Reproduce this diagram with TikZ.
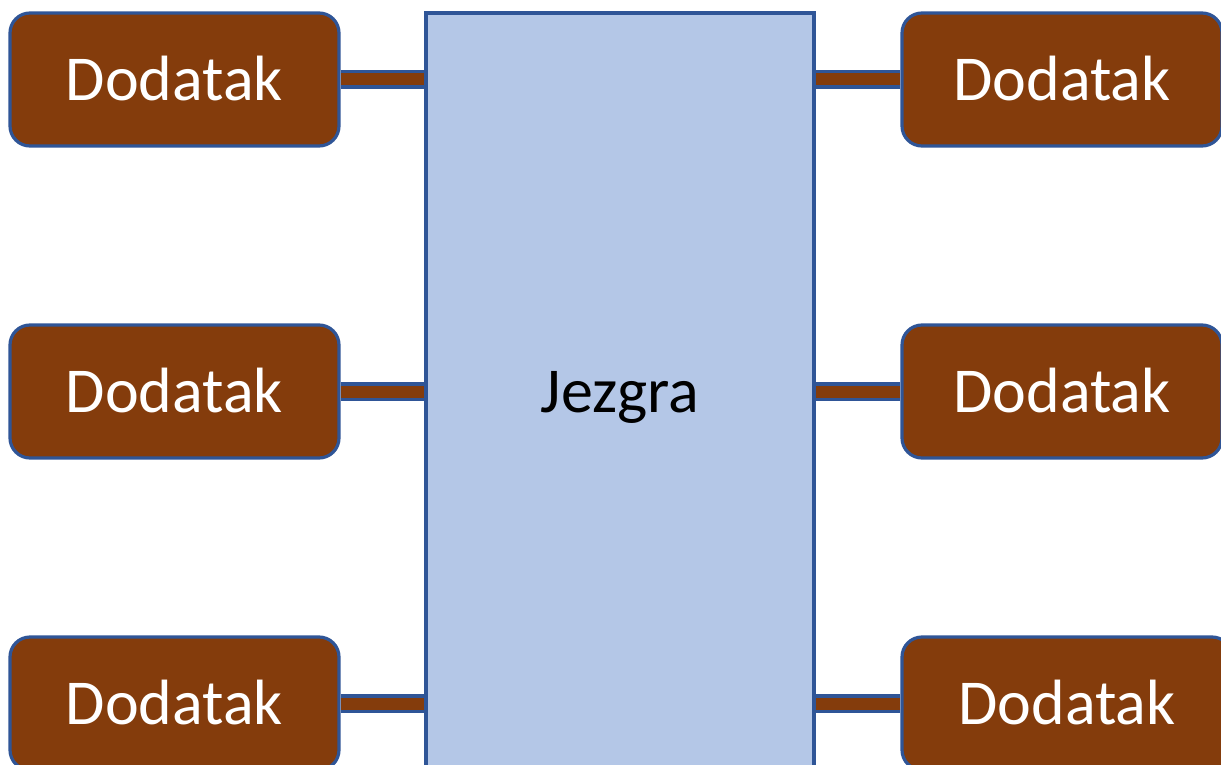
\documentclass[tikz,border=0pt]{standalone}
\usepackage{fontspec}
\setmainfont{Carlito}
\usetikzlibrary{backgrounds}
\definecolor{dodbrown}{HTML}{843C0C}
\definecolor{jezfill}{HTML}{B4C7E7}
\definecolor{jezline}{HTML}{2F5597}

\begin{document}
\begin{tikzpicture}[x=0.5pt,y=-0.5pt,
		dodatak/.style={draw=jezline, line width=1.6pt, fill=dodbrown, rounded corners=10pt, text=white, minimum height=66.5pt, inner sep=0pt, text height=21pt, text depth=0pt, font=\fontsize{32}{38}\selectfont},
		jezgra/.style={draw=jezline, line width=1.6pt, fill=jezfill, minimum width=194pt, minimum height=379pt, inner sep=0pt, text depth=0pt, font=\fontsize{32}{38}\selectfont},
		veza/.style={draw=jezline, line width=1.6pt, double=dodbrown, double distance=6pt}]
				\clip (0,0) rectangle (1221,765);
				
				\node[jezgra] (core) at (620,392) {Jezgra};
				
				\node[dodatak, minimum width=164.5pt] (l1) at (174.5,79.5) {Dodatak};
				\node[dodatak, minimum width=164.5pt] (l2) at (174.5,391.5) {Dodatak};
				\node[dodatak, minimum width=164.5pt] (l3) at (174.5,703.5) {Dodatak};
				
				\node[dodatak, minimum width=160pt] (r1) at (1062,79.5) {Dodatak};
				\node[dodatak, minimum width=160pt] (r2) at (1062,391.5) {Dodatak};
				\node[dodatak, minimum width=165pt] (r3) at (1067,703.5) {Dodatak};
				
				\begin{scope}[on background layer]
					\foreach \x in {l1,l2,l3}{
						\draw[veza] (\x.east) -- (core.west |- \x.east);}
					\foreach \x in {r1,r2,r3}{
						\draw[veza] (\x.west) -- (core.east |- \x.west);}
				\end{scope}
			\end{tikzpicture}
\end{document}
